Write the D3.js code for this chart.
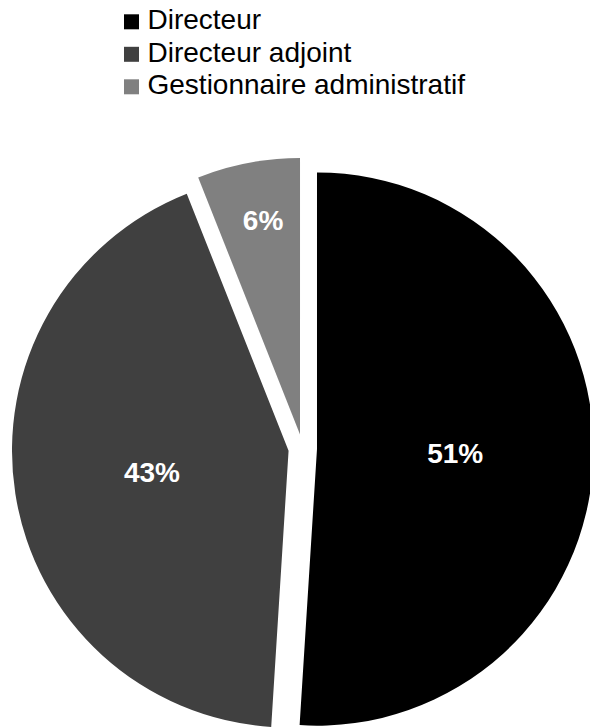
<!DOCTYPE html>
<html>
<head>
<meta charset="utf-8">
<script src="https://cdn.jsdelivr.net/npm/d3@7"></script>
<style>
  html, body { margin: 0; padding: 0; background: #fff; }
  svg { display: block; }
</style>
</head>
<body>
<svg id="chart" width="590" height="727"></svg>
<script>
// ---- data ----
const categories = ["Directeur", "Directeur adjoint", "Gestionnaire administratif"];
const values = [51, 43, 6];
const labels = ["51%", "43%", "6%"];
const colors = ["#000000", "#404040", "#808080"];

// ---- layout / style ----
const W = 590, H = 727;
const cx = 302.7, cy = 448.6, R = 276.6, explode = 14.3;
const labelRadiusFactor = [0.5, 0.5, 0.79];
const fontFamily = "'Liberation Sans', Arial, Helvetica, sans-serif";

const svg = d3.select("#chart");

const pie = d3.pie().sort(null).value(d => d)(values);
const arc = d3.arc().innerRadius(0).outerRadius(R);

const g = svg.append("g").attr("transform", `translate(${cx},${cy})`);

const slices = g.selectAll("g.slice")
  .data(pie)
  .enter().append("g")
  .attr("class", "slice")
  .attr("transform", d => {
    const a = (d.startAngle + d.endAngle) / 2;
    return `translate(${explode * Math.sin(a)},${-explode * Math.cos(a)})`;
  });

slices.append("path")
  .attr("d", arc)
  .attr("fill", (d, i) => colors[i]);

slices.append("text")
  .attr("x", (d, i) => {
    const a = (d.startAngle + d.endAngle) / 2;
    return R * labelRadiusFactor[i] * Math.sin(a) + (i === 2 ? 4 : 0);
  })
  .attr("y", (d, i) => {
    const a = (d.startAngle + d.endAngle) / 2;
    return -R * labelRadiusFactor[i] * Math.cos(a) + 10;
  })
  .attr("text-anchor", "middle")
  .attr("fill", "#ffffff")
  .attr("font-family", fontFamily)
  .attr("font-weight", "bold")
  .attr("font-size", 28)
  .text((d, i) => labels[i]);

// ---- legend ----
const legend = svg.append("g");
const legendY = d3.scaleBand().domain(categories).range([0, 97.5]);
const items = legend.selectAll("g.item")
  .data(categories)
  .enter().append("g")
  .attr("class", "item")
  .attr("transform", d => `translate(0,${29.3 + legendY(d)})`);

items.append("rect")
  .attr("x", 124)
  .attr("y", -15)
  .attr("width", 15)
  .attr("height", 15)
  .attr("fill", (d, i) => colors[i]);

items.append("text")
  .attr("x", 147.5)
  .attr("y", 0)
  .attr("font-family", fontFamily)
  .attr("font-size", 28)
  .attr("fill", "#000")
  .text(d => d);
</script>
</body>
</html>
